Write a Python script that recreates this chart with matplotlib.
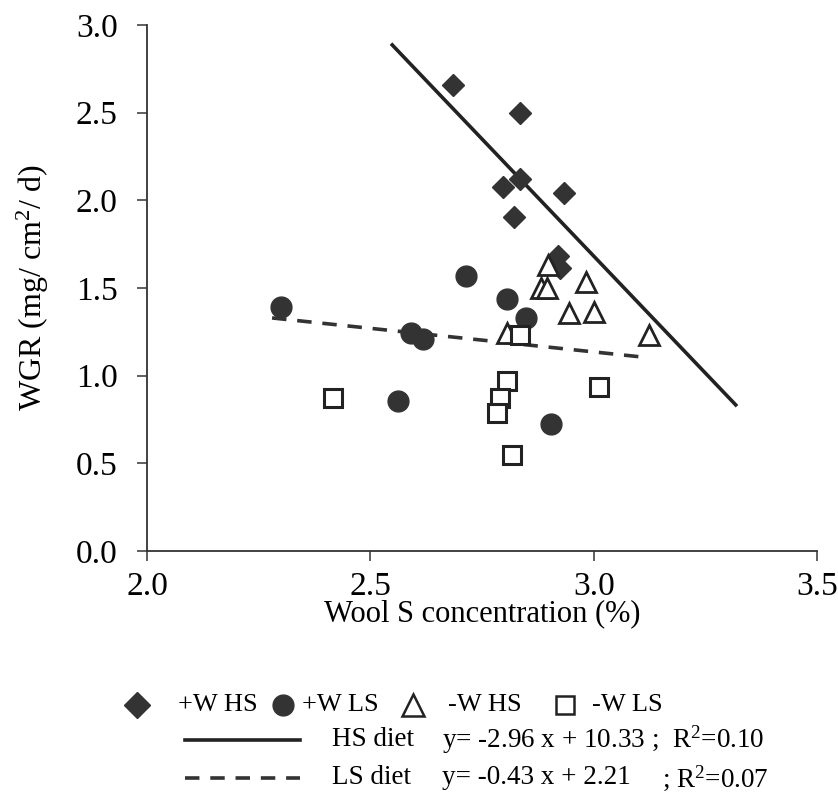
import matplotlib
matplotlib.use("Agg")
import matplotlib.pyplot as plt
from matplotlib.lines import Line2D

plt.rcParams['font.family'] = ['Liberation Serif', 'DejaVu Serif']
plt.rcParams['mathtext.fontset'] = 'custom'
plt.rcParams['mathtext.rm'] = 'Liberation Serif'
plt.rcParams['mathtext.it'] = 'Liberation Serif:italic'
plt.rcParams['mathtext.bf'] = 'Liberation Serif:bold'

# +W HS (filled diamonds)
whs_x = [2.684, 2.836, 2.796, 2.834, 2.821, 2.933, 2.919, 2.924]
whs_y = [2.658, 2.500, 2.076, 2.120, 1.905, 2.040, 1.683, 1.614]
# +W LS (filled circles)
wls_x = [2.300, 2.715, 2.807, 2.848, 2.590, 2.617, 2.561, 2.904]
wls_y = [1.392, 1.569, 1.438, 1.329, 1.244, 1.209, 0.856, 0.724]
# -W HS (open triangles)
nhs_x = [2.897, 2.881, 2.895, 2.982, 2.944, 3.000, 3.123, 2.807]
nhs_y = [1.631, 1.500, 1.500, 1.534, 1.358, 1.363, 1.232, 1.244]
# -W LS (open squares)
nls_x = [2.417, 2.805, 2.791, 2.784, 2.818, 3.011, 2.836]
nls_y = [0.873, 0.970, 0.873, 0.787, 0.548, 0.936, 1.232]
# regression lines (endpoints as drawn)
hs_line_x = [2.549, 3.318]
hs_line_y = [2.886, 0.833]
ls_line_x = [2.280, 3.105]
ls_line_y = [1.329, 1.107]

xticks = [2.0, 2.5, 3.0, 3.5]
yticks = [0.0, 0.5, 1.0, 1.5, 2.0, 2.5, 3.0]

dark = '#333333'
fig = plt.figure(figsize=(8.38, 7.97), dpi=100)
ax = fig.add_axes([0.1754, 0.3087, 0.7996, 0.66])

ax.plot(hs_line_x, hs_line_y, color='#222222', lw=2.6, zorder=2)
ax.plot(ls_line_x, ls_line_y, color='#333333', lw=2.6, ls=(0, (4, 3)), zorder=2)

ax.plot(whs_x, whs_y, 'D', color=dark, ms=11, mec=dark, ls='none', zorder=3)
ax.plot(wls_x, wls_y, 'o', color=dark, ms=15, mec=dark, ls='none', zorder=3)
ax.plot(nhs_x, nhs_y, '^', mfc='white', mec='#222222', mew=2, ms=15, ls='none', zorder=3)
ax.plot(nls_x, nls_y, 's', mfc='white', mec='#222222', mew=2.2, ms=13, ls='none', zorder=3)

ax.set_xlim(2.0, 3.5)
ax.set_ylim(0.0, 3.0)
ax.set_xticks(xticks)
ax.set_yticks(yticks)
ax.set_xticklabels([f'{t:.1f}' for t in xticks])
ax.set_yticklabels([f'{t:.1f}' for t in yticks])
ax.tick_params(axis='both', labelsize=24, direction='out', length=7, width=1.2, color='#444444')
ax.tick_params(axis='x', pad=8)
ax.tick_params(axis='y', pad=14)
for s in ['top', 'right']:
    ax.spines[s].set_visible(False)
for s in ['left', 'bottom']:
    ax.spines[s].set_linewidth(1.3)
    ax.spines[s].set_color('#333333')
ax.set_xlabel('Wool S concentration (%)', fontsize=22, labelpad=-2)
ax.set_ylabel('WGR (mg/ cm$^2$/ d)', fontsize=23, labelpad=18)

# legend drawn below
def fy(py):
    return 1 - py / 797.0
def fx(px):
    return px / 838.0

lfs = 19.5
r1 = fy(705)
fig.add_artist(Line2D([fx(137)], [r1], marker='D', color=dark, ms=13, ls='none'))
fig.text(fx(178), r1, '+W HS', fontsize=19, va='center')
fig.add_artist(Line2D([fx(283)], [r1], marker='o', color=dark, ms=15, ls='none'))
fig.text(fx(302), r1, '+W LS', fontsize=19, va='center')
fig.add_artist(Line2D([fx(413)], [r1], marker='^', mfc='white', mec='#222222', mew=1.8, ms=16, ls='none'))
fig.text(fx(448), r1, '-W HS', fontsize=19, va='center')
fig.add_artist(Line2D([fx(565)], [r1], marker='s', mfc='white', mec='#222222', mew=1.8, ms=13, ls='none'))
fig.text(fx(592), r1, '-W LS', fontsize=19, va='center')

r2 = fy(740)
fig.add_artist(Line2D([fx(185), fx(300)], [r2, r2], color='#222222', lw=2.6))
fig.text(fx(332), r2, 'HS diet', fontsize=lfs, va='center')
fig.text(fx(442), r2, 'y= -2.96 x + 10.33 ;  R$^2$=0.10', fontsize=lfs, va='center')

r3 = fy(778)
fig.add_artist(Line2D([fx(185), fx(300)], [r3, r3], color='#333333', lw=2.6, ls=(0, (4, 3))))
fig.text(fx(332), r3, 'LS diet', fontsize=lfs, va='center')
fig.text(fx(442), r3, 'y= -0.43 x + 2.21', fontsize=lfs, va='center')
fig.text(fx(662), r3, '; R$^2$=0.07', fontsize=lfs, va='center')

fig.savefig('out.png', dpi=100, facecolor='white')
